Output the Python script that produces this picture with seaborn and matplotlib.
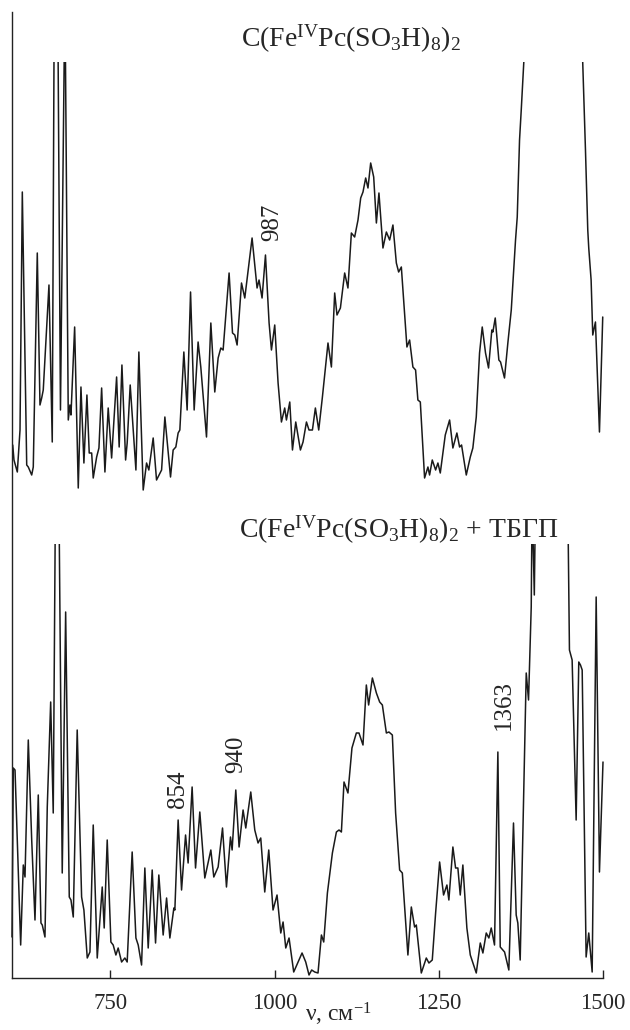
import numpy as np
import pandas as pd
import matplotlib
matplotlib.use("Agg")
import matplotlib.pyplot as plt
import seaborn as sns

# ---------------- data (wavenumber, cm^-1 ; intensity, arb. units) ----------------
top_wn = [601.1, 603.0, 608.1, 612.2, 615.7, 622.4, 624.8, 630.0, 632.4, 638.5,
          642.6, 645.2, 647.6, 656.3, 661.3, 666.5, 673.8, 680.6, 685.7, 688.2,
          689.8, 695.4, 700.9, 705.0, 709.5, 714.1, 717.6, 721.3, 723.7, 728.9,
          732.4, 736.5, 741.5, 746.5, 751.7, 759.3, 763.2, 767.4, 773.0, 775.4,
          780.0, 788.7, 793.2, 799.8, 804.9, 808.4, 815.0, 820.1, 827.8, 832.8,
          841.4, 845.4, 849.5, 853.0, 855.6, 861.7, 866.7, 871.9, 877.4, 883.4,
          887.5, 896.2, 902.8, 908.8, 913.9, 918.0, 921.5, 930.6, 935.8, 939.3,
          942.8, 949.5, 954.5, 965.6, 973.2, 976.2, 980.8, 986.0, 991.5, 995.1,
          1000.1, 1005.2, 1010.3, 1015.3, 1017.9, 1023.0, 1027.1, 1032.1, 1039.2, 1043.2,
          1048.4, 1052.3, 1057.5, 1062.0, 1067.1, 1072.7, 1081.2, 1086.4, 1091.4, 1094.9,
          1100.1, 1106.6, 1111.6, 1116.8, 1121.8, 1126.9, 1131.0, 1134.5, 1138.6, 1142.1,
          1146.2, 1150.8, 1154.9, 1158.8, 1164.9, 1170.1, 1175.1, 1180.1, 1185.3, 1188.8,
          1192.9, 1201.4, 1205.5, 1210.5, 1214.6, 1218.1, 1221.8, 1228.3, 1233.4, 1235.9,
          1240.0, 1245.1, 1248.6, 1252.2, 1259.8, 1266.4, 1271.4, 1277.5, 1281.6, 1284.6,
          1291.8, 1297.9, 1301.8, 1307.0, 1312.0, 1316.1, 1321.1, 1325.7, 1330.7, 1332.3,
          1335.9, 1341.4, 1344.0, 1350.0, 1355.1, 1360.3, 1363.7, 1366.8, 1369.4, 1372.9,
          1375.5, 1379.4, 1382.8, 1423.0, 1465.7, 1469.1, 1473.3, 1476.8, 1478.3, 1481.9,
          1484.4, 1488.5, 1494.6, 1499.6]
top_int = [4.5, 3.0, 1.8, 6.0, 29.8, 2.5, 2.3, 1.5, 2.3, 23.7,
           8.5, 9.2, 10.0, 20.5, 4.8, 80.0, 8.0, 50.0, 7.0, 8.5,
           7.5, 16.3, 0.2, 10.3, 2.7, 9.5, 3.7, 3.7, 1.2, 3.3,
           4.2, 10.2, 1.8, 8.2, 3.2, 11.3, 4.3, 12.5, 3.0, 4.7,
           10.5, 2.0, 13.8, 0.0, 2.7, 2.0, 5.2, 1.0, 2.0, 7.3,
           1.3, 4.0, 4.3, 5.7, 6.0, 13.8, 8.0, 19.8, 8.0, 14.8,
           12.3, 5.3, 16.7, 9.8, 13.2, 14.2, 14.0, 21.7, 15.7, 15.5,
           14.5, 20.7, 19.2, 25.2, 20.2, 21.0, 19.2, 23.5, 16.7, 14.0,
           16.5, 10.7, 6.8, 8.2, 7.0, 8.8, 4.0, 6.8, 4.0, 4.8,
           6.8, 6.0, 6.0, 8.2, 6.0, 9.3, 14.7, 12.3, 19.7, 17.5,
           18.2, 21.7, 20.2, 25.7, 25.3, 27.0, 29.2, 29.8, 31.2, 30.2,
           32.7, 31.3, 26.7, 29.7, 24.2, 25.8, 25.0, 26.5, 22.7, 21.8,
           22.3, 14.3, 15.0, 12.3, 12.0, 9.0, 8.8, 1.2, 2.3, 1.5,
           3.0, 2.0, 2.7, 1.7, 5.5, 7.0, 4.2, 5.7, 4.3, 4.5,
           1.5, 3.3, 4.2, 7.3, 13.7, 16.3, 13.7, 12.2, 16.0, 15.8,
           17.2, 13.0, 12.8, 11.2, 14.7, 18.0, 21.7, 25.0, 27.3, 35.0,
           38.0, 42.8, 48.0, 60.0, 48.0, 42.8, 34.0, 26.0, 24.2, 21.0,
           15.5, 16.8, 5.8, 17.3]

bot_wn = [600.0, 602.0, 604.6, 608.1, 613.2, 617.2, 619.8, 624.8, 630.0, 635.0,
          640.0, 644.1, 646.1, 650.2, 653.7, 658.9, 662.8, 668.5, 676.5, 681.7,
          687.2, 689.8, 693.3, 699.3, 706.0, 709.5, 714.6, 718.7, 723.7, 729.8,
          737.4, 740.4, 745.0, 750.6, 754.1, 758.2, 761.7, 766.9, 771.9, 775.4,
          783.0, 788.7, 792.2, 797.3, 802.3, 807.4, 813.5, 818.6, 823.6, 830.2,
          835.4, 840.4, 846.5, 848.0, 853.0, 858.2, 864.3, 868.2, 874.3, 879.5,
          886.0, 893.6, 902.8, 907.3, 913.9, 920.6, 926.6, 932.7, 935.2, 940.8,
          945.8, 951.9, 956.0, 963.6, 969.7, 974.7, 978.8, 984.9, 991.0, 997.5,
          1003.6, 1009.3, 1012.8, 1016.9, 1021.9, 1029.0, 1035.6, 1041.7, 1047.3, 1052.3,
          1056.4, 1061.0, 1066.0, 1071.2, 1074.7, 1080.3, 1087.9, 1094.0, 1098.0, 1101.6,
          1105.6, 1111.6, 1117.7, 1124.4, 1128.4, 1134.5, 1139.6, 1143.1, 1148.8, 1154.9,
          1159.9, 1164.0, 1170.1, 1174.0, 1179.2, 1184.2, 1190.3, 1194.4, 1202.9, 1208.1,
          1213.1, 1215.7, 1223.3, 1230.9, 1234.9, 1240.0, 1245.1, 1251.2, 1257.2, 1262.3,
          1265.3, 1271.4, 1275.5, 1279.0, 1282.6, 1286.6, 1292.7, 1297.9, 1307.0, 1313.1,
          1317.1, 1322.2, 1326.2, 1329.8, 1334.8, 1339.9, 1343.5, 1350.1, 1356.6, 1363.7,
          1367.8, 1370.3, 1373.9, 1383.1, 1386.6, 1390.7, 1392.1, 1395.4, 1397.6, 1420.0,
          1446.0, 1448.9, 1453.0, 1459.1, 1463.1, 1465.7, 1468.3, 1474.3, 1478.3, 1483.5,
          1489.6, 1494.6, 1500.0]
bot_int = [4.1, 21.0, 20.8, 13.8, 3.3, 11.3, 10.1, 23.8, 13.8, 5.8,
           18.3, 5.5, 5.3, 4.1, 17.1, 27.6, 16.5, 70.0, 10.5, 36.6,
           8.1, 7.8, 6.1, 24.8, 8.1, 6.8, 2.0, 2.6, 15.3, 2.0,
           9.1, 5.0, 13.8, 3.6, 3.3, 2.3, 3.0, 1.6, 2.0, 1.6,
           12.6, 4.0, 3.3, 1.3, 11.0, 3.0, 10.8, 3.5, 10.3, 4.3,
           8.0, 4.0, 7.0, 6.8, 15.8, 8.8, 14.3, 11.5, 19.1, 11.0,
           16.6, 10.0, 12.8, 10.1, 11.1, 15.0, 9.1, 14.1, 12.8, 18.8,
           13.1, 16.8, 15.0, 18.6, 14.8, 13.5, 14.0, 8.6, 12.8, 6.8,
           8.3, 4.5, 5.6, 3.0, 4.0, 0.6, 1.6, 2.5, 1.6, 0.3,
           0.8, 0.6, 0.5, 4.3, 3.6, 8.5, 12.5, 14.6, 14.8, 14.6,
           19.6, 18.5, 23.0, 24.5, 24.5, 23.3, 29.3, 27.3, 30.0, 28.5,
           27.6, 27.3, 24.5, 24.6, 24.3, 16.5, 10.8, 10.5, 2.3, 7.1,
           5.1, 5.3, 0.5, 2.0, 1.5, 1.8, 6.5, 11.6, 8.3, 9.3,
           7.8, 13.1, 11.0, 11.0, 8.3, 11.3, 5.0, 2.3, 0.5, 3.5,
           2.5, 4.5, 4.0, 5.0, 3.3, 22.6, 3.1, 2.6, 0.8, 15.5,
           6.3, 5.5, 1.8, 30.5, 27.8, 37.1, 48.0, 38.3, 50.0, 55.0,
           50.0, 32.8, 31.8, 15.8, 31.6, 31.3, 30.8, 2.1, 4.5, 0.6,
           38.1, 10.6, 21.6]

x_ticks = [750, 1000, 1250, 1500]
top_label = r"C(Fe$^{\mathrm{IV}}$Pc(SO$_{\mathrm{3}}$H)$_{\mathrm{8}}$)$_{\mathrm{2}}$"
bot_label = r"C(Fe$^{\mathrm{IV}}$Pc(SO$_{\mathrm{3}}$H)$_{\mathrm{8}}$)$_{\mathrm{2}}$ + ТБГП"
x_label = r"ν, см$^{\mathrm{-1}}$"
top_peaks = [986.0]
top_peak_labels = ["987"]
bot_peaks = [853.0, 940.8, 1339.9]
bot_peak_labels = ["854", "940", "1363"]

# ---------------- style ----------------
sns.set_style("ticks")
plt.rcParams["font.family"] = ["Liberation Serif", "DejaVu Serif"]
plt.rcParams["mathtext.fontset"] = "custom"
plt.rcParams["mathtext.rm"] = "Liberation Serif"
plt.rcParams["mathtext.it"] = "Liberation Serif:italic"
plt.rcParams["mathtext.bf"] = "Liberation Serif:bold"

TOP_OFFSET = 48.8      # vertical shift of the upper trace
TOP_CLIP = 42.8        # off-scale level of the upper trace
BOT_CLIP = 43.4        # off-scale level of the lower trace

fig = plt.figure(figsize=(6.3, 10.3), dpi=100)
ax = fig.add_axes([12 / 630, 1 - 978 / 1030, 591 / 630, 966 / 1030])

df_top = pd.DataFrame({"wn": top_wn, "I": np.array(top_int) + TOP_OFFSET})
df_bot = pd.DataFrame({"wn": bot_wn, "I": bot_int})

lw = 1.1
sns.lineplot(data=df_top, x="wn", y="I", ax=ax, color="#1a1a1a", lw=lw, sort=False,
             estimator=None)
ln_top = ax.lines[-1]
sns.lineplot(data=df_bot, x="wn", y="I", ax=ax, color="#1a1a1a", lw=lw, sort=False,
             estimator=None)
ln_bot = ax.lines[-1]
for ln in (ln_top, ln_bot):
    ln.set_solid_joinstyle("round")

clip_top = plt.Rectangle((590, TOP_OFFSET - 10), 920, TOP_CLIP + 10, transform=ax.transData)
clip_bot = plt.Rectangle((590, -5), 920, BOT_CLIP + 5, transform=ax.transData)
ln_top.set_clip_path(clip_top)
ln_bot.set_clip_path(clip_bot)

ax.set_xlim(600, 1500)
ax.set_ylim(0, 96.6)
ax.set_yticks([])
ax.set_xticks(x_ticks)
ax.set_xticklabels([str(t) for t in x_ticks])
ax.tick_params(axis="x", direction="in", length=6, width=1, labelsize=16.5, pad=11,
               color="#222222")
for s in ["top", "right"]:
    ax.spines[s].set_visible(False)
for s in ["left", "bottom"]:
    ax.spines[s].set_linewidth(1.0)
    ax.spines[s].set_color("#222222")

ax.set_xlabel(x_label, fontsize=17)
ax.xaxis.set_label_coords(0.553, -0.0235)
ax.set_ylabel("")

ax.text(0.574, 0.9638, top_label, transform=ax.transAxes, fontsize=20,
        ha="center", va="baseline")
ax.text(0.655, 0.4555, bot_label, transform=ax.transAxes, fontsize=20,
        ha="center", va="baseline")

def annotate(peaks, labels, df, offsets):
    for p, lab, (dx, dy) in zip(peaks, labels, offsets):
        i = int(np.argmin(np.abs(df["wn"].values - p)))
        ax.annotate(lab, xy=(df["wn"].values[i], df["I"].values[i]),
                    xytext=(dx, dy), textcoords="offset points",
                    rotation=90, ha="center", va="bottom", fontsize=18)

annotate(top_peaks, top_peak_labels, df_top, [(5, 10)])
annotate(bot_peaks, bot_peak_labels, df_bot, [(0, 9), (0, 12), (4.5, 16)])

fig.savefig("out.png", dpi=100, facecolor="white")
